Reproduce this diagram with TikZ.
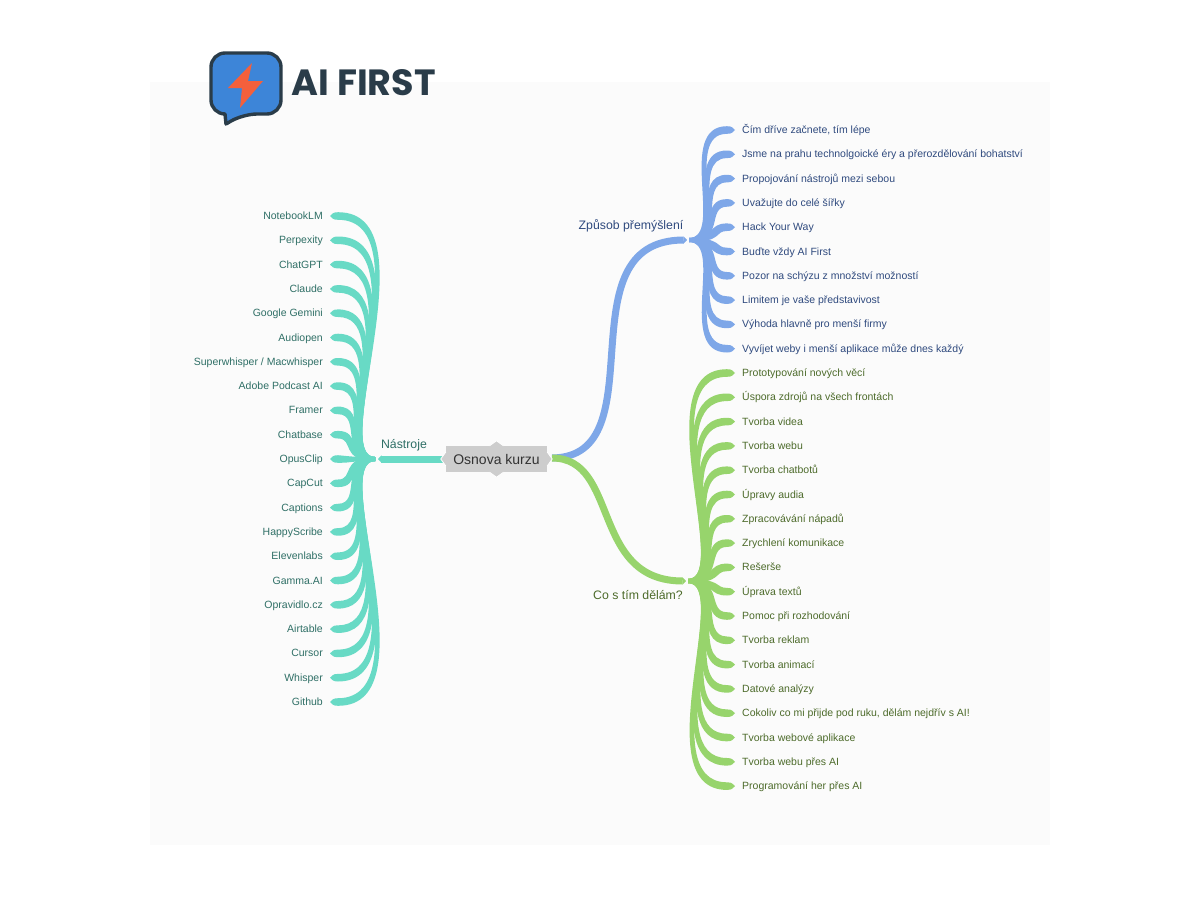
\documentclass[tikz,border=0pt]{standalone}
\usepackage{fontspec}
\setmainfont{Liberation Sans}
\newfontfamily\logofont{Poppins}
\usetikzlibrary{calc,arrows.meta}
\definecolor{paneltone}{HTML}{FBFBFB}
\definecolor{tealline}{HTML}{68DAC5}
\definecolor{blueline}{HTML}{7EA7E8}
\definecolor{greenline}{HTML}{97D46C}
\definecolor{tealtext}{HTML}{2F6F66}
\definecolor{bluetext}{HTML}{2F4A7E}
\definecolor{greentext}{HTML}{4D6B2B}
\definecolor{centerfill}{HTML}{CDCDCD}
\definecolor{logodark}{HTML}{2A3C49}
\definecolor{logoblue}{HTML}{3D85D8}
\definecolor{logobolt}{HTML}{F4603C}
% tapered connector from a hub to the tip beside a topic
\newcommand{\branch}[3]{%
  \path (#2); \pgfgetlastxy{\hx}{\hy}
  \path (#3); \pgfgetlastxy{\tx}{\ty}
  \pgfmathsetmacro{\dirx}{\tx>\hx ? 1 : -1}
  \pgfmathsetmacro{\diry}{\ty>\hy ? 1 : -1}
  \pgfmathsetmacro{\spread}{abs(\ty-\hy)/243}
  \pgfmathsetmacro{\xa}{\hx+\dirx*(30+20*\spread)}
  \pgfmathsetmacro{\xb}{\tx-\dirx*(20+80*\spread)}
  \pgfmathsetmacro{\sw}{\diry*2}
  \pgfmathsetmacro{\st}{\diry*3.8}
  \pgfmathsetmacro{\xn}{\tx-\dirx*8}
  \pgfmathsetmacro{\xm}{\tx-\dirx*2.5}
  \pgfmathsetmacro{\dl}{\dirx*3.4}
  \fill[#1] (\hx,{\hy+\sw pt})
    .. controls ({\xa pt-\dl pt},{\hy+\sw pt}) and ({\xb pt-\dl pt},{\ty+\st pt}) .. ({\xn pt},{\ty+\st pt})
    .. controls ({\xm pt},{\ty+\st pt}) and ({\xm pt},{\ty+\sw pt}) .. (\tx,\ty)
    .. controls ({\xm pt},{\ty-\sw pt}) and ({\xm pt},{\ty-\st pt}) .. ({\xn pt},{\ty-\st pt})
    .. controls ({\xb pt+\dl pt},{\ty-\st pt}) and ({\xa pt+\dl pt},{\hy-\sw pt}) .. (\hx,{\hy-\sw pt})
    -- cycle;
}
\begin{document}
\begin{tikzpicture}[
  x=1pt, y=-1pt,
  leaf/.style={inner xsep=7pt, inner ysep=0pt, text height=8.5pt, text depth=1.5pt, font=\fontsize{10.5}{12}\selectfont},
  tealleaf/.style={leaf, anchor=east, text=tealtext},
  blueleaf/.style={leaf, anchor=west, text=bluetext},
  greenleaf/.style={leaf, anchor=west, text=greentext},
  sublabel/.style={inner sep=0pt, font=\fontsize{12.3}{14}\selectfont},
  bar/.style={line width=7pt},
  bump/.style={draw=white, line width=0.8pt, fill=centerfill}
]
\useasboundingbox (0,0) rectangle (1200,900);
\fill[paneltone] (150,82) rectangle (1050,845);

% logo
\draw[logodark, line width=3.4pt, fill=logoblue, rounded corners=14pt, line join=round]
  (211,53) -- (281,53) -- (281,114) -- (243,114) [sharp corners] -- (226,124) -- (225,114) [rounded corners=14pt] -- (211,114) -- cycle;
\fill[logobolt] (252,63) -- (228,88) -- (242,88) -- (240,108) -- (263,81) -- (248,81) -- cycle;
\node[anchor=west, inner sep=0pt, text=logodark, font=\logofont\bfseries\fontsize{36.5}{40}\selectfont] (logotext) at (291.5,83) {AI FIRST};

% centre
\node[fill=centerfill, minimum width=101pt, minimum height=26pt, inner sep=0pt, text=black!80, font=\fontsize{14}{16}\selectfont] (main) at (496.5,459) {Osnova kurzu};
\coordinate (mainout) at (552,458);
\coordinate (hubteal) at (375,459);
\coordinate (hubblue) at (689,240);
\coordinate (hubgreen) at (688,581);

\node[sublabel, text=tealtext] (tools) at (404,445) {Nástroje};
\node[sublabel, text=bluetext] (thinking) at (631,226) {Způsob přemýšlení};
\node[sublabel, text=greentext] (doing) at (638,595) {Co s tím dělám?};

\draw[bar, tealline, {Triangle[width=7pt,length=3.5pt]}-] ($(hubteal)+(3,0)$) -- (main.west);
\draw[bar, blueline, -{Triangle[width=7pt,length=3.5pt]}] (mainout) .. controls (660,457) and (560,240) .. ($(hubblue)+(-2,0)$);
\draw[bar, greenline, -{Triangle[width=7pt,length=3.5pt]}] (mainout) .. controls (620,458) and (590,581) .. ($(hubgreen)+(-2,0)$);
\filldraw[bump] ($(main.north)+(-7,0)$) -- ($(main.north)+(0,-5)$) -- ($(main.north)+(7,0)$);
\filldraw[bump] ($(main.south)+(-7,0)$) -- ($(main.south)+(0,5)$) -- ($(main.south)+(7,0)$);
\filldraw[bump] ($(main.west)+(0,-7)$) -- ($(main.west)+(-5,0)$) -- ($(main.west)+(0,7)$);
\filldraw[bump] ($(main.east)+(0,-7)$) -- ($(main.east)+(5,0)$) -- ($(main.east)+(0,7)$);

% tools
\node[tealleaf] (teal1) at (330,216) {NotebookLM};
\node[tealleaf] (teal2) at (330,240.3) {Perpexity};
\node[tealleaf] (teal3) at (330,264.6) {ChatGPT};
\node[tealleaf] (teal4) at (330,288.9) {Claude};
\node[tealleaf] (teal5) at (330,313.2) {Google Gemini};
\node[tealleaf] (teal6) at (330,337.5) {Audiopen};
\node[tealleaf] (teal7) at (330,361.8) {Superwhisper / Macwhisper};
\node[tealleaf] (teal8) at (330,386.1) {Adobe Podcast AI};
\node[tealleaf] (teal9) at (330,410.4) {Framer};
\node[tealleaf] (teal10) at (330,434.7) {Chatbase};
\node[tealleaf] (teal11) at (330,459) {OpusClip};
\node[tealleaf] (teal12) at (330,483.3) {CapCut};
\node[tealleaf] (teal13) at (330,507.6) {Captions};
\node[tealleaf] (teal14) at (330,531.9) {HappyScribe};
\node[tealleaf] (teal15) at (330,556.2) {Elevenlabs};
\node[tealleaf] (teal16) at (330,580.5) {Gamma.AI};
\node[tealleaf] (teal17) at (330,604.8) {Opravidlo.cz};
\node[tealleaf] (teal18) at (330,629.1) {Airtable};
\node[tealleaf] (teal19) at (330,653.4) {Cursor};
\node[tealleaf] (teal20) at (330,677.7) {Whisper};
\node[tealleaf] (teal21) at (330,702) {Github};

% way of thinking
\node[blueleaf] (blue1) at (735,130) {Čím dříve začnete, tím lépe};
\node[blueleaf] (blue2) at (735,154.3) {Jsme na prahu technolgoické éry a přerozdělování bohatství};
\node[blueleaf] (blue3) at (735,178.6) {Propojování nástrojů mezi sebou};
\node[blueleaf] (blue4) at (735,202.9) {Uvažujte do celé šířky};
\node[blueleaf] (blue5) at (735,227.2) {Hack Your Way};
\node[blueleaf] (blue6) at (735,251.5) {Buďte vždy AI First};
\node[blueleaf] (blue7) at (735,275.8) {Pozor na schýzu z množství možností};
\node[blueleaf] (blue8) at (735,300.1) {Limitem je vaše představivost};
\node[blueleaf] (blue9) at (735,324.4) {Výhoda hlavně pro menší firmy};
\node[blueleaf] (blue10) at (735,348.7) {Vyvíjet weby i menší aplikace může dnes každý};

% what to do
\node[greenleaf] (green1) at (735,373) {Prototypování nových věcí};
\node[greenleaf] (green2) at (735,397.3) {Úspora zdrojů na všech frontách};
\node[greenleaf] (green3) at (735,421.6) {Tvorba videa};
\node[greenleaf] (green4) at (735,445.9) {Tvorba webu};
\node[greenleaf] (green5) at (735,470.2) {Tvorba chatbotů};
\node[greenleaf] (green6) at (735,494.5) {Úpravy audia};
\node[greenleaf] (green7) at (735,518.8) {Zpracovávání nápadů};
\node[greenleaf] (green8) at (735,543.1) {Zrychlení komunikace};
\node[greenleaf] (green9) at (735,567.4) {Rešerše};
\node[greenleaf] (green10) at (735,591.7) {Úprava textů};
\node[greenleaf] (green11) at (735,616) {Pomoc při rozhodování};
\node[greenleaf] (green12) at (735,640.3) {Tvorba reklam};
\node[greenleaf] (green13) at (735,664.6) {Tvorba animací};
\node[greenleaf] (green14) at (735,688.9) {Datové analýzy};
\node[greenleaf] (green15) at (735,713.2) {Cokoliv co mi přijde pod ruku, dělám nejdřív s AI!};
\node[greenleaf] (green16) at (735,737.5) {Tvorba webové aplikace};
\node[greenleaf] (green17) at (735,761.8) {Tvorba webu přes AI};
\node[greenleaf] (green18) at (735,786.1) {Programování her přes AI};

\branch{tealline}{hubteal}{teal1.east}
\branch{tealline}{hubteal}{teal2.east}
\branch{tealline}{hubteal}{teal3.east}
\branch{tealline}{hubteal}{teal4.east}
\branch{tealline}{hubteal}{teal5.east}
\branch{tealline}{hubteal}{teal6.east}
\branch{tealline}{hubteal}{teal7.east}
\branch{tealline}{hubteal}{teal8.east}
\branch{tealline}{hubteal}{teal9.east}
\branch{tealline}{hubteal}{teal10.east}
\branch{tealline}{hubteal}{teal11.east}
\branch{tealline}{hubteal}{teal12.east}
\branch{tealline}{hubteal}{teal13.east}
\branch{tealline}{hubteal}{teal14.east}
\branch{tealline}{hubteal}{teal15.east}
\branch{tealline}{hubteal}{teal16.east}
\branch{tealline}{hubteal}{teal17.east}
\branch{tealline}{hubteal}{teal18.east}
\branch{tealline}{hubteal}{teal19.east}
\branch{tealline}{hubteal}{teal20.east}
\branch{tealline}{hubteal}{teal21.east}
\branch{blueline}{hubblue}{blue1.west}
\branch{blueline}{hubblue}{blue2.west}
\branch{blueline}{hubblue}{blue3.west}
\branch{blueline}{hubblue}{blue4.west}
\branch{blueline}{hubblue}{blue5.west}
\branch{blueline}{hubblue}{blue6.west}
\branch{blueline}{hubblue}{blue7.west}
\branch{blueline}{hubblue}{blue8.west}
\branch{blueline}{hubblue}{blue9.west}
\branch{blueline}{hubblue}{blue10.west}
\branch{greenline}{hubgreen}{green1.west}
\branch{greenline}{hubgreen}{green2.west}
\branch{greenline}{hubgreen}{green3.west}
\branch{greenline}{hubgreen}{green4.west}
\branch{greenline}{hubgreen}{green5.west}
\branch{greenline}{hubgreen}{green6.west}
\branch{greenline}{hubgreen}{green7.west}
\branch{greenline}{hubgreen}{green8.west}
\branch{greenline}{hubgreen}{green9.west}
\branch{greenline}{hubgreen}{green10.west}
\branch{greenline}{hubgreen}{green11.west}
\branch{greenline}{hubgreen}{green12.west}
\branch{greenline}{hubgreen}{green13.west}
\branch{greenline}{hubgreen}{green14.west}
\branch{greenline}{hubgreen}{green15.west}
\branch{greenline}{hubgreen}{green16.west}
\branch{greenline}{hubgreen}{green17.west}
\branch{greenline}{hubgreen}{green18.west}
\end{tikzpicture}
\end{document}
